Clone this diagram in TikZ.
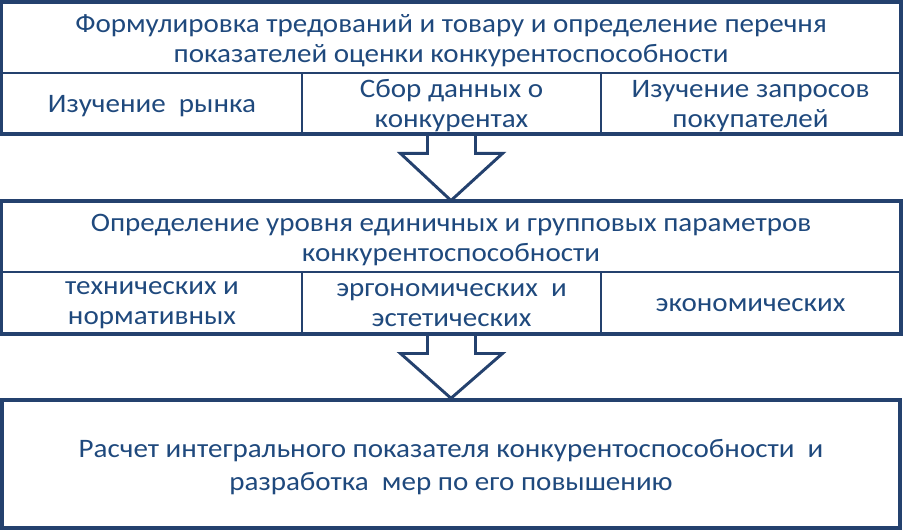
\documentclass[tikz,border=0pt]{standalone}
\usepackage{fontspec}
\setmainfont{Carlito}[FakeStretch=1.09]
\usetikzlibrary{calc}
\definecolor{frame}{HTML}{24416E}
\definecolor{ink}{HTML}{1F497D}
\tikzset{
  x=0.75pt, y=-0.75pt,
  cell/.style={draw=frame, line width=2.2pt, inner sep=0pt},
  txt/.style={inner sep=0pt, align=center, text=ink, yshift=-2pt,
    font=\fontsize{20}{22.5}\selectfont},
  outer/.style={draw=frame, line width=2.6pt},
  arr/.style={draw=frame, line width=2.2pt, line join=miter},
}
\begin{document}
\begin{tikzpicture}
\useasboundingbox (0,0) rectangle (904,531);
% box 1
\node[cell, minimum width=673.5pt, minimum height=52.5pt] (t1) at (451,38) {};
\node[cell, minimum width=225pt, minimum height=45pt] (c11) at (152,103) {};
\node[cell, minimum width=224.25pt, minimum height=45pt] (c12) at (451.5,103) {};
\node[cell, minimum width=224.25pt, minimum height=45pt] (c13) at (750.5,103) {};
\draw[outer] (t1.north west) rectangle (c13.south east);
\node[txt] (t1t) at (t1.center) {Формулировка тредований и товару и определение перечня\\показателей оценки конкурентоспособности};
\node[txt] (c11t) at (c11.center) {Изучение\ \ рынка};
\node[txt] (c12t) at (c12.center) {Сбор данных о\\конкурентах};
\node[txt] (c13t) at (c13.center) {Изучение запросов\\покупателей};
% box 2
\node[cell, minimum width=673.5pt, minimum height=52.5pt] (t2) at (451,237) {};
\node[cell, minimum width=225pt, minimum height=45.75pt] (c21) at (152,302.5) {};
\node[cell, minimum width=224.25pt, minimum height=45.75pt] (c22) at (451.5,302.5) {};
\node[cell, minimum width=224.25pt, minimum height=45.75pt] (c23) at (750.5,302.5) {};
\draw[outer] (t2.north west) rectangle (c23.south east);
\node[txt] (t2t) at (t2.center) {Определение уровня единичных и групповых параметров\\конкурентоспособности};
\node[txt] (c21t) at (c21.center) {технических и\\нормативных};
\node[txt] (c22t) at (c22.center) {эргономических\ \ и\\эстетических};
\node[txt] (c23t) at (c23.center) {экономических};
% box 3
\node[cell, line width=2.6pt, minimum width=673.5pt, minimum height=96pt] (b3) at (451,464) {};
\node[txt, font=\fontsize{20}{24.75}\selectfont, yshift=-0.4pt] (b3t) at (b3.center)
  {Расчет интегрального показателя конкурентоспособности\ \ и\\разработка\ \ мер по его повышению};
% arrows
\draw[arr] ($(c12.south)+(-24,0)$) -- ++(0,19) -- ++(-27,0) -- (t2.north)
  -- ($(c12.south)+(51,19)$) -- ++(-27,0) -- ++(0,-19);
\draw[arr] ($(c22.south)+(-24,0)$) -- ++(0,19) -- ++(-27,0) -- (b3.north)
  -- ($(c22.south)+(51,19)$) -- ++(-27,0) -- ++(0,-19);
\end{tikzpicture}
\end{document}
